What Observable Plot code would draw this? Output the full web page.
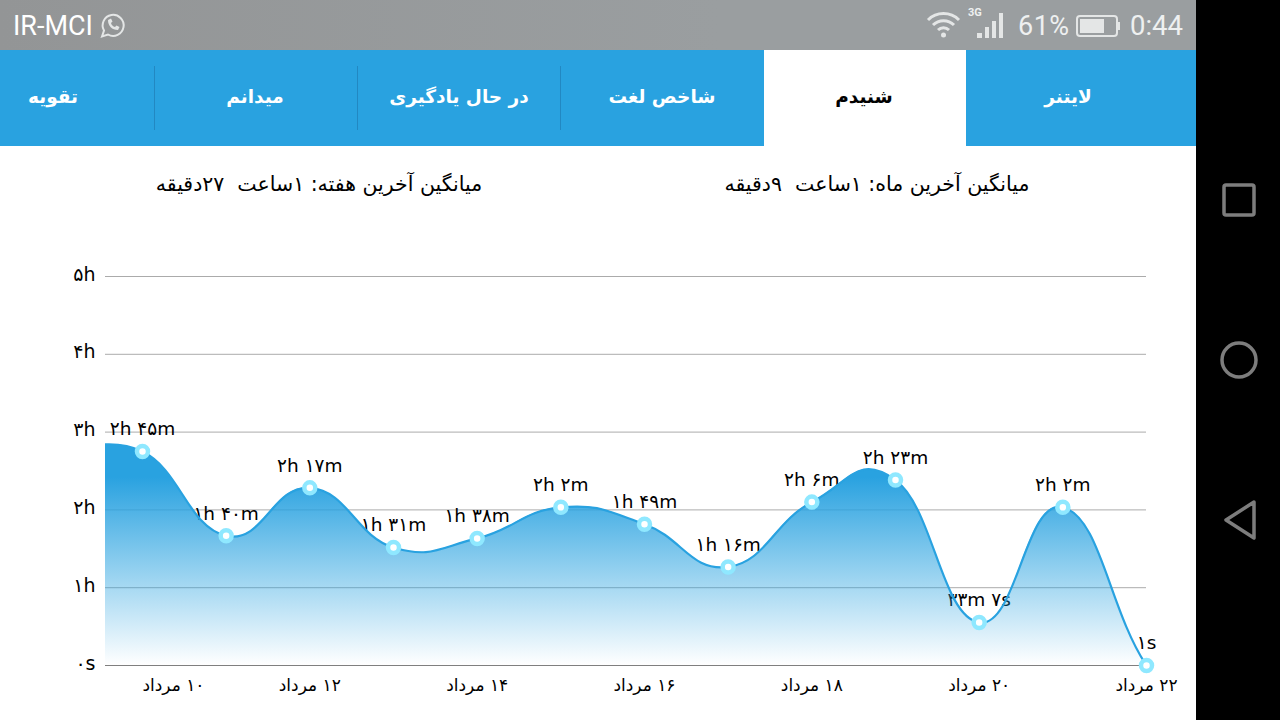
<!DOCTYPE html>
<html lang="fa">
<head>
<meta charset="utf-8">
<script src="https://cdn.jsdelivr.net/npm/d3@7"></script>
<script src="https://cdn.jsdelivr.net/npm/@observablehq/plot@0.6"></script>
<style>
html,body{margin:0;padding:0;width:1280px;height:720px;overflow:hidden;background:#000;font-family:"DejaVu Sans",sans-serif}
#screen{position:absolute;left:0;top:0;width:1196px;height:720px;background:#fff;overflow:hidden}
#status{position:absolute;left:0;top:0;width:1196px;height:50px;background:linear-gradient(90deg,#939596,#9a9ea0 60%,#9a9ea0);color:#eef0f0;font:27px/52px Roboto,sans-serif}
#status span{position:absolute;top:0;white-space:nowrap}
#bar{position:absolute;left:0;top:50px;width:1196px;height:96px;background:#29a2e0}
#on{position:absolute;left:764px;top:50px;width:202px;height:96px;background:#fff}
.tab{position:absolute;top:50px;color:#fff;font:bold 18.500px/94px "DejaVu Sans",sans-serif;direction:rtl;white-space:nowrap;transform:translateX(-50%)}
.div{position:absolute;top:66px;width:1px;height:64px;background:#2288c2}
.avg{position:absolute;top:170px;font:20.500px/28px "DejaVu Sans",sans-serif;color:#000;direction:rtl;white-space:pre;text-align:center;transform:translateX(-50%)}
#chart{position:absolute;left:0;top:220px}
#chrome{position:absolute;left:0;top:0}
</style>
</head>
<body>
<div id="screen">
  <div id="status">
    <span style="left:13px;color:#fff">IR-MCI</span>
    <span style="left:1018px;letter-spacing:.5px">61%</span>
    <span style="left:1130px;font-size:27.500px">0:44</span>
    <span style="left:968px;top:-13px;font-size:11px;font-weight:bold">3G</span>
  </div>
  <div id="bar"></div>
  <div id="on"></div>
  <div class="div" style="left:154px"></div>
  <div class="div" style="left:357px"></div>
  <div class="div" style="left:560px"></div>
  <div class="tab" style="left:53px">تقویه</div>
  <div class="tab" style="left:255px">میدانم</div>
  <div class="tab" style="left:459px">در حال یادگیری</div>
  <div class="tab" style="left:662px">شاخص لغت</div>
  <div class="tab" style="left:864px;color:#000">شنیدم</div>
  <div class="tab" style="left:1068px">لایتنر</div>
  <div class="avg" style="left:877px">میانگین آخرین ماه: ۱ساعت  ۹دقیقه</div>
  <div class="avg" style="left:319px">میانگین آخرین هفته: ۱ساعت  ۲۷دقیقه</div>
  <div id="chart"></div>
</div>
<svg id="chrome" width="1280" height="720" style="pointer-events:none">
  <g fill="none" stroke="#e4e6e6">
    <path d="M102 36.500l2-6a10.500 10.500 0 1 1 4 4z" stroke-width="2"/>
    <path d="M108 20c0 6 4 10 10 10l1.500-3-3-1.500-1.500 1.500c-2-.5-3.500-2-4-4l1.500-1.500-1.500-3z" fill="#e4e6e6" stroke="none"/>
    <path d="M928 20a22 22 0 0 1 31 0M933 25a15 15 0 0 1 21 0M938 30a8 8 0 0 1 11 0" stroke-width="3"/>
    <circle cx="943.500" cy="35" r="2.500" fill="#e4e6e6" stroke="none"/>
    <rect x="1077" y="16" width="40" height="20" rx="3" stroke-width="2"/>
    <rect x="1080" y="19" width="24" height="14" fill="#e4e6e6" stroke="none"/>
    <rect x="1118" y="22" width="2" height="8" fill="#e4e6e6" stroke="none"/>
    <rect x="977" y="33" width="5" height="5" fill="#e4e6e6" stroke="none"/>
    <rect x="985" y="27" width="4" height="11" fill="#e4e6e6" stroke="none"/>
    <rect x="992" y="21" width="4" height="17" fill="#e4e6e6" stroke="none"/>
    <rect x="999" y="13" width="4" height="25" fill="#e4e6e6" stroke="none"/>
  </g>
  <g fill="none" stroke="#7d7d7d" stroke-width="3.500">
    <rect x="1224" y="185" width="30" height="30" rx="2"/>
    <circle cx="1239" cy="360" r="17"/>
    <path d="M1254 502L1226 520L1254 538Z" stroke-linejoin="round"/>
  </g>
</svg>
<script>
// Chart data (minutes)
const days = [10,11,12,13,14,15,16,17,18,19,20,21,22];
const minutes = [165,100,137,91,98,122,109,76,126,143,33.117,122,0.017];
const pointLabels = ["۲h ۴۵m","۱h ۴۰m","۲h ۱۷m","۱h ۳۱m","۱h ۳۸m","۲h ۲m","۱h ۴۹m","۱h ۱۶m","۲h ۶m","۲h ۲۳m","۳۳m ۷s","۲h ۲m","۱s"];
// the curve runs in from the left of the frame and straight out at the right
const leadDay = 9;
const leadMinutes = 162;
const tailDay = 23;
const tailMinutes = -72;
const hourTicks = [0,60,120,180,240,300];
const hourLabels = ["۰s","۱h","۲h","۳h","۴h","۵h"];
const dayTicks = [12,14,16,18,20,22];
const firstDay = [10];
const dayNames = {10:"۱۰",12:"۱۲",14:"۱۴",16:"۱۶",18:"۱۸",20:"۲۰",22:"۲۲"};
const monthName = "مرداد";

const points = days.map((d,i)=>({day:d,min:minutes[i],label:pointLabels[i]}));
const curvePts = [{day:leadDay,min:leadMinutes},...points,{day:tailDay,min:tailMinutes}];

const dayFmt = d => "\u200f"+dayNames[d]+" "+monthName;
const hourFmt = m => hourLabels[hourTicks.indexOf(m)];
const gradient = (index, scales) => {
  const defs = d3.create("svg:defs");
  const g = defs.append("linearGradient").attr("id","areaFill").attr("gradientUnits","userSpaceOnUse")
    .attr("x1",0).attr("x2",0).attr("y1",scales.y(145)).attr("y2",scales.y(0));
  g.append("stop").attr("offset","0%").attr("stop-color","#29a2e0").attr("stop-opacity",1);
  g.append("stop").attr("offset","100%").attr("stop-color","#29a2e0").attr("stop-opacity",0);
  return defs.node();
};
const curve = {curve:"cardinal",tension:-0.35};

const plot = Plot.plot({
  width:1196, height:500,
  marginLeft:105, marginRight:50, marginTop:56, marginBottom:55,
  x:{type:"linear",domain:[9.558,22],axis:null},
  y:{type:"linear",domain:[0,300],axis:null},
  style:{fontFamily:"DejaVu Sans",fontSize:"18px",background:"transparent",color:"#000"},
  marks:[
    gradient,
    Plot.ruleY(hourTicks,{stroke:"#000",strokeOpacity:d=>d===0?0.5:0.33,strokeWidth:1}),
    Plot.axisY(hourTicks,{anchor:"left",tickSize:0,tickPadding:10,tickFormat:hourFmt,fontSize:19,dy:-2,label:null}),
    Plot.axisX(dayTicks,{anchor:"bottom",tickSize:0,tickPadding:13,tickFormat:dayFmt,fontSize:17,label:null}),
    Plot.axisX(firstDay,{anchor:"bottom",tickSize:0,tickPadding:13,tickFormat:dayFmt,fontSize:17,dx:31,label:null}),
    Plot.text(points,{x:"day",y:"min",text:"label",dy:-22,fontSize:18.5,fill:"#000"}),
    Plot.areaY(curvePts,{x:"day",y:"min",...curve,fill:"url(#areaFill)",clip:true}),
    Plot.lineY(curvePts,{x:"day",y:"min",...curve,stroke:"#29a2e0",strokeWidth:2.2,clip:true}),
    Plot.dot(points,{x:"day",y:"min",r:5.5,fill:"#fff",stroke:"#8fe8ff",strokeWidth:4.5})
  ]
});
document.getElementById("chart").appendChild(plot);
</script>
</body>
</html>
